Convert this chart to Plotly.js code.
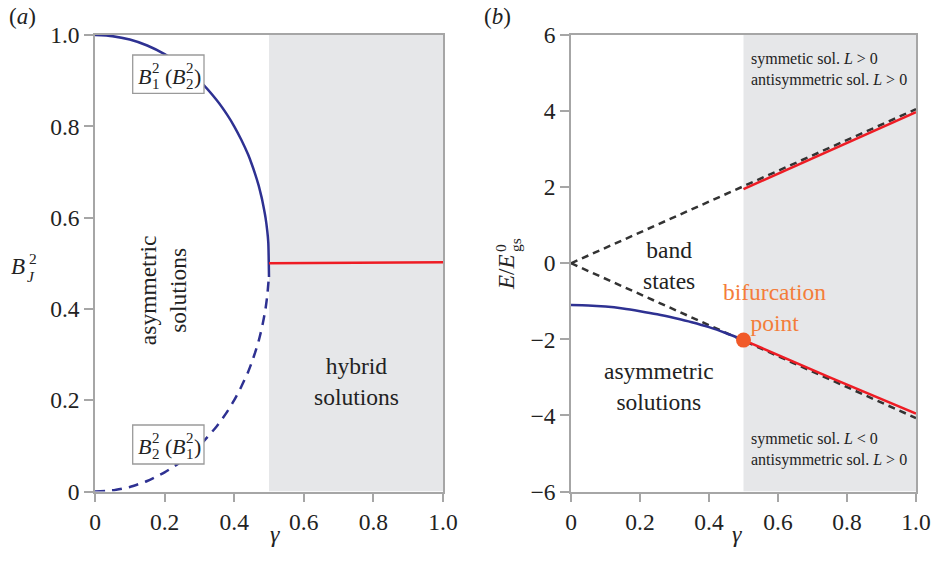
<!DOCTYPE html>
<html>
<head>
<meta charset="utf-8">
<script src="https://cdn.plot.ly/plotly-3.0.1.min.js"></script>
<style>html,body{margin:0;padding:0;background:#fff;}#chart{width:937px;height:567px;}</style>
</head>
<body>
<div id="chart"></div>
<script>
// Panel (a): B_J^2 versus gamma
const gammaA = [0, 0.05, 0.1, 0.15, 0.2, 0.25, 0.3, 0.35, 0.38, 0.4, 0.42, 0.44, 0.45, 0.46, 0.47, 0.475, 0.48, 0.485, 0.49, 0.495, 0.498, 0.5];
const b1Upper = [1, 0.9975, 0.990, 0.977, 0.958, 0.933, 0.900, 0.857, 0.825, 0.800, 0.771, 0.738, 0.718, 0.696, 0.671, 0.656, 0.640, 0.621, 0.600, 0.571, 0.545, 0.47];
const b2Lower = [0, 0.0025, 0.010, 0.023, 0.042, 0.067, 0.100, 0.143, 0.175, 0.200, 0.229, 0.262, 0.282, 0.304, 0.329, 0.344, 0.360, 0.379, 0.400, 0.429, 0.455, 0.47];
const gammaHybrid = [0.5, 0.75, 1.0];
const bHybrid = [0.5, 0.501, 0.502];

// Panel (b): E/E0gs versus gamma
const gammaBand = [0, 1.0];
const bandUpper = [0, 4.05];
const bandLower = [0, -4.07];
const gammaAsym = [0, 0.05, 0.1, 0.15, 0.2, 0.25, 0.3, 0.35, 0.4, 0.45, 0.5];
const eAsym = [-1.10, -1.11, -1.14, -1.19, -1.26, -1.34, -1.44, -1.55, -1.68, -1.84, -2.02];
const gammaSym = [0.5, 0.75, 1.0];
const eSymUpper = [1.95, 2.96, 3.97];
const eSymLower = [-2.02, -3.0, -3.95];
const bifurcation = {x: [0.5], y: [-2.02]};

const tickVals01 = [0, 0.2, 0.4, 0.6, 0.8, 1.0];
const tickText01 = ['0', '0.2', '0.4', '0.6', '0.8', '1.0'];
const tickValsE = [-6, -4, -2, 0, 2, 4, 6];
const tickTextE = ['\u22126', '\u22124', '\u22122', '0', '2', '4', '6'];

const blue = '#2e3192';
const red = '#ee1c24';
const axisGray = '#a6a6a6';
const ink = '#222';
const serif = '"Liberation Serif", "DejaVu Serif", serif';
const big = 23.5;

const traces = [
  {x: gammaA, y: b1Upper, xaxis: 'x', yaxis: 'y', mode: 'lines', line: {color: blue, width: 2.5, shape: 'spline', smoothing: 0.6}},
  {x: gammaA, y: b2Lower, xaxis: 'x', yaxis: 'y', mode: 'lines', line: {color: blue, width: 2.5, dash: '10px,7px', shape: 'spline', smoothing: 0.6}},
  {x: gammaHybrid, y: bHybrid, xaxis: 'x', yaxis: 'y', mode: 'lines', line: {color: red, width: 2.5}},
  {x: gammaBand, y: bandUpper, xaxis: 'x2', yaxis: 'y2', mode: 'lines', line: {color: '#333', width: 2.5, dash: '7px,5px'}},
  {x: gammaBand, y: bandLower, xaxis: 'x2', yaxis: 'y2', mode: 'lines', line: {color: '#333', width: 2.5, dash: '7px,5px'}},
  {x: gammaSym, y: eSymUpper, xaxis: 'x2', yaxis: 'y2', mode: 'lines', line: {color: red, width: 2.5}},
  {x: gammaSym, y: eSymLower, xaxis: 'x2', yaxis: 'y2', mode: 'lines', line: {color: red, width: 2.5}},
  {x: gammaAsym, y: eAsym, xaxis: 'x2', yaxis: 'y2', mode: 'lines', line: {color: blue, width: 2.5, shape: 'spline', smoothing: 0.6}},
  {x: bifurcation.x, y: bifurcation.y, xaxis: 'x2', yaxis: 'y2', mode: 'markers', marker: {color: '#f15a29', size: 15}}
];

const axisCommon = {
  showline: true, mirror: true, linecolor: axisGray, linewidth: 1.5,
  ticks: 'outside', ticklen: 9, tickcolor: axisGray, tickwidth: 1.5,
  showgrid: false, zeroline: false, automargin: false,
  tickfont: {family: serif, size: 23.5, color: ink}
};

const W = 937, H = 567;
const px = v => v / W;
const py = v => 1 - v / H;
const yDom = [py(491.5), py(35)];

// paper-positioned text piece helper (pixel positions are layout, not data)
function piece(text, x, y, size, opts) {
  return Object.assign({xref: 'paper', yref: 'paper', x: px(x), y: py(y), xanchor: 'left', yanchor: 'middle',
    showarrow: false, text: text, font: {family: serif, size: size, color: ink}, borderpad: 0}, opts || {});
}

// labels "B^2_a (B^2_b)" inside a box, with stacked super/subscripts
function boxLabel(dy, subA, subB) {
  return [
    piece('<i>B</i>', 137, 76.7 + dy, 22),
    piece('2', 150.5, 68 + dy, 15),
    piece(subA, 150.5, 83.5 + dy, 15),
    piece('(', 164, 76.7 + dy, 22),
    piece('<i>B</i>', 170.5, 76.7 + dy, 22),
    piece('2', 184.5, 68 + dy, 15),
    piece(subB, 184.5, 83.5 + dy, 15),
    piece(')', 193, 76.7 + dy, 22)
  ];
}

const layout = {
  width: W, height: H,
  margin: {l: 0, r: 0, t: 0, b: 0},
  paper_bgcolor: '#fff', plot_bgcolor: 'rgba(0,0,0,0)',
  showlegend: false,
  font: {family: serif, color: ink},
  xaxis: Object.assign({}, axisCommon, {domain: [px(95), px(443)], range: [0, 1], tickvals: tickVals01, ticktext: tickText01, anchor: 'y'}),
  yaxis: Object.assign({}, axisCommon, {domain: yDom, range: [0, 1], tickvals: tickVals01, ticktext: tickText01, anchor: 'x'}),
  xaxis2: Object.assign({}, axisCommon, {domain: [px(571), px(916)], range: [0, 1], tickvals: tickVals01, ticktext: tickText01, anchor: 'y2'}),
  yaxis2: Object.assign({}, axisCommon, {domain: yDom, range: [-6, 6], tickvals: tickValsE, ticktext: tickTextE, anchor: 'x2'}),
  shapes: [
    {type: 'rect', xref: 'x', yref: 'y', x0: 0.5, x1: 1, y0: 0, y1: 1, fillcolor: '#e6e7e9', line: {width: 0}, layer: 'below'},
    {type: 'rect', xref: 'x2', yref: 'y2', x0: 0.5, x1: 1, y0: -6, y1: 6, fillcolor: '#e6e7e9', line: {width: 0}, layer: 'below'},
    {type: 'rect', xref: 'paper', yref: 'paper', x0: px(132.7), x1: px(204), y0: py(93.3), y1: py(55), fillcolor: '#fff', line: {color: '#9a9a9a', width: 1.3}, layer: 'above'},
    {type: 'rect', xref: 'paper', yref: 'paper', x0: px(132.7), x1: px(204), y0: py(464), y1: py(425), fillcolor: '#fff', line: {color: '#9a9a9a', width: 1.3}, layer: 'above'}
  ],
  annotations: [
    piece('(<i>a</i>)', 8, 16, 23),
    piece('(<i>b</i>)', 483, 16, 23),
    // y label of panel (a): B^2_J
    piece('<i>B</i>', 10, 266.4, 23),
    piece('2', 27.5, 258, 15.5),
    piece('<i>J</i>', 25.5, 276, 15.5),
    // x labels
    {xref: 'paper', yref: 'paper', x: px(268), y: py(549), showarrow: false, text: '<i>γ</i>', font: {family: serif, size: 24, color: ink}},
    {xref: 'paper', yref: 'paper', x: px(744), y: py(549), showarrow: false, text: '<i>γ</i>', font: {family: serif, size: 24, color: ink}},
    // y label of panel (b): E/E^0_gs (rotated)
    {xref: 'paper', yref: 'paper', x: px(506), y: py(272), showarrow: false, textangle: -90, text: '<i>E</i>/<i>E</i>', font: {family: serif, size: 23, color: ink}},
    {xref: 'paper', yref: 'paper', x: px(500), y: py(248), showarrow: false, textangle: -90, text: '0', font: {family: serif, size: 15.5, color: ink}},
    {xref: 'paper', yref: 'paper', x: px(516), y: py(245), showarrow: false, textangle: -90, text: 'gs', font: {family: serif, size: 15.5, color: ink}},
    ...boxLabel(0, '1', '2'),
    ...boxLabel(370, '2', '1'),
    {xref: 'x', yref: 'y', x: 0.197, y: 0.44, showarrow: false, textangle: -90, text: 'asymmetric<br>solutions', font: {family: serif, size: big, color: ink}},
    {xref: 'x', yref: 'y', x: 0.75, y: 0.24, showarrow: false, text: 'hybrid<br>solutions', font: {family: serif, size: big, color: ink}},
    {xref: 'x2', yref: 'y2', x: 0.284, y: -0.05, showarrow: false, text: 'band<br>states', font: {family: serif, size: big, color: ink}},
    {xref: 'x2', yref: 'y2', x: 0.59, y: -1.15, showarrow: false, text: 'bifurcation<br>point', font: {family: serif, size: big, color: '#f47d3a'}},
    {xref: 'x2', yref: 'y2', x: 0.254, y: -3.25, showarrow: false, text: 'asymmetric<br>solutions', font: {family: serif, size: big, color: ink}},
    {xref: 'x2', yref: 'y2', x: 0.515, y: 5.1, xanchor: 'left', showarrow: false, align: 'left', text: 'symmetic sol. <i>L</i> > 0<br>antisymmetric sol. <i>L</i> > 0', font: {family: serif, size: 16, color: ink}},
    {xref: 'x2', yref: 'y2', x: 0.515, y: -4.9, xanchor: 'left', showarrow: false, align: 'left', text: 'symmetic sol. <i>L</i> < 0<br>antisymmetric sol. <i>L</i> > 0', font: {family: serif, size: 16, color: ink}}
  ]
};

Plotly.newPlot('chart', traces, layout, {displayModeBar: false});
</script>
</body>
</html>
